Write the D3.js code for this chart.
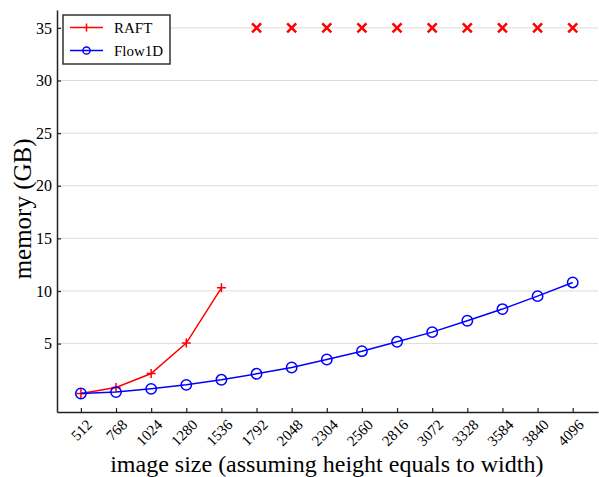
<!DOCTYPE html>
<html>
<head>
  <meta charset="utf-8">
  <script src="https://d3js.org/d3.v7.min.js"></script>
  <style>
    body { margin: 0; background: #fff; }
    text { font-family: "Liberation Serif", "DejaVu Serif", serif; }
  </style>
</head>
<body>
  <svg width="599" height="477"></svg>
  <script>
    // image sizes on the x axis
    var sizes = [512, 768, 1024, 1280, 1536, 1792, 2048, 2304, 2560, 2816, 3072, 3328, 3584, 3840, 4096];
    // RAFT memory (GB), out of memory beyond 1536
    var raft = [0.26, 0.83, 2.16, 5.05, 10.3];
    var raftOOM = [1792, 2048, 2304, 2560, 2816, 3072, 3328, 3584, 3840, 4096];
    var oomValue = 35;
    // Flow1D memory (GB)
    var flow1d = [0.26, 0.39, 0.7, 1.08, 1.56, 2.13, 2.73, 3.49, 4.28, 5.17, 6.09, 7.17, 8.28, 9.51, 10.81];
    var yTicks = [5, 10, 15, 20, 25, 30, 35];

    var svg = d3.select("svg"),
        margin = {top: 10, right: 1, bottom: 65, left: 57},
        width = +svg.attr("width") - margin.left - margin.right,
        height = +svg.attr("height") - margin.top - margin.bottom;

    var g = svg.append("g")
        .attr("transform", "translate(" + margin.left + "," + margin.top + ")");

    var x = d3.scaleLinear()
        .domain([-0.68, sizes.length - 1 + 0.72])
        .range([0, width]);

    var y = d3.scaleLinear()
        .domain([-1.5, 36.7])
        .range([height, 0]);

    // grid
    g.selectAll(".grid")
      .data(yTicks)
      .enter().append("line")
        .attr("x1", 0).attr("x2", width)
        .attr("y1", function(d) { return y(d); })
        .attr("y2", function(d) { return y(d); })
        .attr("stroke", "#dcdcdc")
        .attr("stroke-width", 1);

    var xAxis = d3.axisBottom(x)
        .tickValues(d3.range(sizes.length))
        .tickFormat(function(i) { return sizes[i]; })
        .tickSizeInner(-4).tickSizeOuter(0);

    var yAxis = d3.axisLeft(y)
        .tickValues(yTicks)
        .tickSizeInner(-4).tickSizeOuter(0);

    var gx = g.append("g")
        .attr("transform", "translate(0," + height + ")")
        .call(xAxis);
    gx.selectAll("text")
        .attr("font-size", 15)
        .attr("fill", "#000")
        .attr("text-anchor", "end")
        .attr("dy", "0.35em")
        .attr("transform", "translate(8,10) rotate(-45)")
        .attr("y", 0).attr("x", 0);

    var gy = g.append("g").call(yAxis);
    gy.selectAll("text")
        .attr("font-size", 16)
        .attr("fill", "#000")
        .attr("x", -5);

    [gx, gy].forEach(function(a) {
      a.select(".domain").attr("stroke", "#222").attr("stroke-width", 1.5);
      a.selectAll(".tick line").attr("stroke", "#222").attr("stroke-width", 1.2);
    });

    var line = d3.line()
        .x(function(d, i) { return x(i); })
        .y(function(d) { return y(d); });

    // RAFT
    g.append("path")
        .datum(raft)
        .attr("fill", "none")
        .attr("stroke", "#ff0000")
        .attr("stroke-width", 1.5)
        .attr("d", line);

    g.selectAll(".plus")
      .data(raft)
      .enter().append("path")
        .attr("transform", function(d, i) { return "translate(" + x(i) + "," + y(d) + ")"; })
        .attr("d", "M-4.5,0H4.5M0,-4.5V4.5")
        .attr("stroke", "#ff0000")
        .attr("stroke-width", 1.5);

    g.selectAll(".oom")
      .data(raftOOM)
      .enter().append("path")
        .attr("transform", function(d) { return "translate(" + x(sizes.indexOf(d)) + "," + y(oomValue) + ")"; })
        .attr("d", "M-4.5,-4.5L4.5,4.5M-4.5,4.5L4.5,-4.5")
        .attr("stroke", "#ff0000")
        .attr("stroke-width", 2.5);

    // Flow1D
    g.append("path")
        .datum(flow1d)
        .attr("fill", "none")
        .attr("stroke", "#0000ff")
        .attr("stroke-width", 1.5)
        .attr("d", line);

    g.selectAll(".circ")
      .data(flow1d)
      .enter().append("circle")
        .attr("cx", function(d, i) { return x(i); })
        .attr("cy", function(d) { return y(d); })
        .attr("r", 5.2)
        .attr("fill", "none")
        .attr("stroke", "#0000ff")
        .attr("stroke-width", 1.5);

    // legend
    var lg = svg.append("g").attr("transform", "translate(63,15)");
    lg.append("rect")
        .attr("width", 107).attr("height", 49)
        .attr("fill", "#fff")
        .attr("stroke", "#333").attr("stroke-width", 1.5);
    var ly = [12.5, 35.5];
    lg.append("line").attr("x1", 7).attr("x2", 40).attr("y1", ly[0]).attr("y2", ly[0])
        .attr("stroke", "#ff0000").attr("stroke-width", 1.5);
    lg.append("path").attr("d", "M23.5," + (ly[0] - 4) + "V" + (ly[0] + 4))
        .attr("stroke", "#ff0000").attr("stroke-width", 1.5);
    lg.append("line").attr("x1", 7).attr("x2", 40).attr("y1", ly[1]).attr("y2", ly[1])
        .attr("stroke", "#0000ff").attr("stroke-width", 1.5);
    lg.append("circle").attr("cx", 23.5).attr("cy", ly[1]).attr("r", 3.6)
        .attr("fill", "none").attr("stroke", "#0000ff").attr("stroke-width", 1.5);
    lg.append("text").attr("x", 51).attr("y", ly[0]).attr("dy", "0.35em")
        .attr("font-size", 15).text("RAFT");
    lg.append("text").attr("x", 51).attr("y", ly[1]).attr("dy", "0.35em")
        .attr("font-size", 15).text("Flow1D");

    // axis titles
    svg.append("text")
        .attr("x", margin.left + x(7))
        .attr("y", 472)
        .attr("text-anchor", "middle")
        .attr("font-size", 24)
        .text("image size (assuming height equals to width)");

    svg.append("text")
        .attr("transform", "translate(31," + (margin.top + y(17.8)) + ") rotate(-90)")
        .attr("text-anchor", "middle")
        .attr("font-size", 25)
        .text("memory (GB)");
  </script>
</body>
</html>
